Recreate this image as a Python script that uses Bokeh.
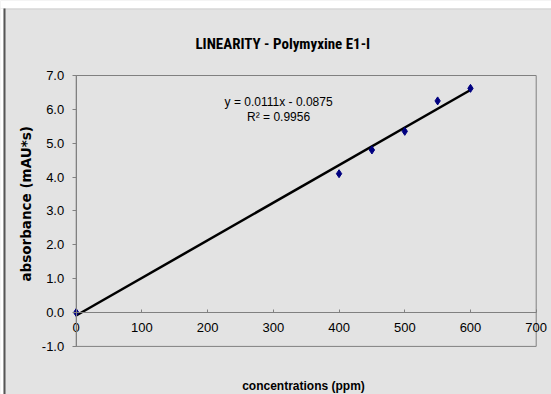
import math
from bokeh.plotting import figure
from bokeh.models import (LinearAxis, Label, BoxAnnotation, FixedTicker,
                          NumeralTickFormatter, Range1d)
from bokeh.embed import file_html
from bokeh.resources import INLINE

# Calibration data: concentration (ppm) vs. absorbance (mAU*s)
concentration = [0, 400, 450, 500, 550, 600]
absorbance = [0.0, 4.1, 4.8, 5.35, 6.25, 6.62]

# Linear trendline coefficients
slope = 0.0111
intercept = -0.0875
fit_x = [0, 600]
fit_y = [slope * x + intercept for x in fit_x]

x_ticks = [0, 100, 200, 300, 400, 500, 600, 700]
y_ticks = [-1, 0, 1, 2, 3, 4, 5, 6, 7]
x_lim = (0, 700)
y_lim = (-1, 7)

W, H = 551, 394
BG = "#e3e3e3"
GRID = "#808080"
FONT = "Liberation Sans"
TITLE_FONT = "'Roboto Condensed', 'Liberation Sans Narrow', 'DejaVu Sans Condensed', sans-serif"

# The frame covers the whole canvas; the plot area sits inside it.
px_x = 460.0 / (x_lim[1] - x_lim[0])   # pixels per ppm
px_y = 270.9 / (y_lim[1] - y_lim[0])   # pixels per absorbance unit
left_px, top_px = 75.7, 75.0
xr = Range1d(x_lim[0] - left_px / px_x, x_lim[0] + (W - left_px) / px_x)
yr = Range1d(y_lim[1] - (H - top_px) / px_y, y_lim[1] + top_px / px_y)

p = figure(width=W, height=H, x_range=xr, y_range=yr,
           output_backend="svg", toolbar_location=None,
           min_border=0, title_location=None,
           x_axis_location=None, y_axis_location=None)
p.background_fill_color = BG
p.border_fill_color = BG
p.outline_line_color = None
p.xgrid.visible = False
p.ygrid.visible = False

# plot area border
p.quad(left=x_lim[0], right=x_lim[1], bottom=y_lim[0], top=y_lim[1],
       fill_color=None, line_color=GRID, line_width=1)

# y axis at x = 0
ya = LinearAxis(ticker=FixedTicker(ticks=y_ticks), fixed_location=0,
                formatter=NumeralTickFormatter(format="0.0"), bounds=y_lim)
ya.axis_line_color = GRID
ya.major_tick_line_color = GRID
ya.major_tick_in = 0
ya.major_tick_out = 4
ya.minor_tick_line_color = None
ya.major_label_text_font = FONT
ya.major_label_text_font_size = "13px"
ya.major_label_text_color = "#000000"
ya.major_label_standoff = 8
p.add_layout(ya, "left")

# x axis crossing at y = 0
xa = LinearAxis(ticker=FixedTicker(ticks=x_ticks), fixed_location=0,
                bounds=x_lim)
xa.axis_line_color = GRID
xa.major_tick_line_color = GRID
xa.major_tick_in = 3
xa.major_tick_out = 0
xa.minor_tick_line_color = None
xa.major_label_text_font = FONT
xa.major_label_text_font_size = "13px"
xa.major_label_text_color = "#000000"
xa.major_label_standoff = 10
p.add_layout(xa, "below")

p.line(fit_x, fit_y, line_color="black", line_width=2.5)
p.scatter(concentration, absorbance, marker="diamond", size=8,
          fill_color="#000080", line_color="#000080")

# trendline equation
p.add_layout(Label(x=308, y=6.23, text="y = 0.0111x - 0.0875",
                   text_align="center", text_baseline="middle",
                   text_font=FONT, text_font_size="12px", text_color="black"))
p.add_layout(Label(x=308, y=5.76, text="R² = 0.9956",
                   text_align="center", text_baseline="middle",
                   text_font=FONT, text_font_size="12px", text_color="black"))

# titles
p.add_layout(Label(x=284, y=H - 43, x_units="screen", y_units="screen",
                   text="LINEARITY -  Polymyxine E1-I",
                   text_align="center", text_baseline="middle",
                   text_font=TITLE_FONT, text_font_size="15px",
                   text_font_style="bold", text_color="black"))
p.add_layout(Label(x=303, y=H - 385, x_units="screen", y_units="screen",
                   text="concentrations (ppm)",
                   text_align="center", text_baseline="middle",
                   text_font=FONT, text_font_size="12px",
                   text_font_style="bold", text_color="black"))
p.add_layout(Label(x=25, y=H - 201, x_units="screen", y_units="screen",
                   text="absorbance  (mAU*s)", angle=math.pi / 2,
                   text_align="center", text_baseline="middle",
                   text_font="DejaVu Sans", text_font_size="13.5px",
                   text_font_style="bold", text_color="black"))

# white strip on top and dark frame edge on the left
p.add_layout(BoxAnnotation(left=0, right=W, bottom=H - 8, top=H,
                           left_units="screen", right_units="screen",
                           top_units="screen", bottom_units="screen",
                           fill_color="white", fill_alpha=1, line_color=None))
p.add_layout(BoxAnnotation(left=0, right=W, bottom=H - 9, top=H - 8,
                           left_units="screen", right_units="screen",
                           top_units="screen", bottom_units="screen",
                           fill_color="#cfcfcf", fill_alpha=1, line_color=None))
p.add_layout(BoxAnnotation(left=0, right=3, bottom=0, top=H - 8,
                           left_units="screen", right_units="screen",
                           top_units="screen", bottom_units="screen",
                           fill_color="white", fill_alpha=1, line_color=None))
p.add_layout(BoxAnnotation(left=3, right=5, bottom=0, top=H - 8,
                           left_units="screen", right_units="screen",
                           top_units="screen", bottom_units="screen",
                           fill_color="#555555", fill_alpha=1, line_color=None))

open("out.html", "w").write(file_html(p, INLINE))
